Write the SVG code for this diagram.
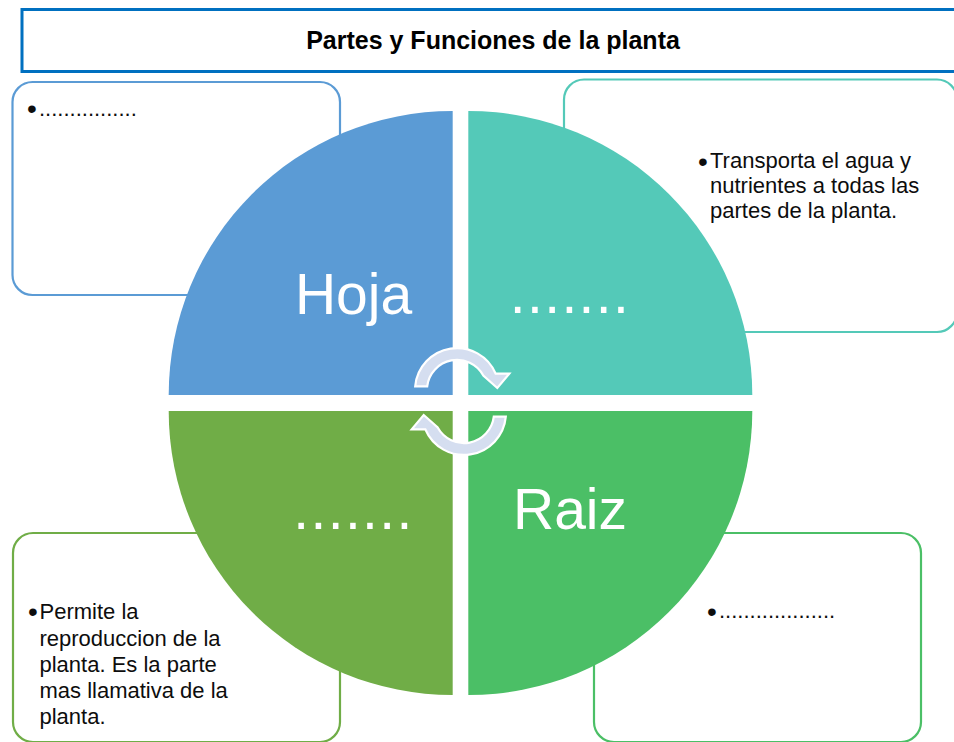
<svg xmlns="http://www.w3.org/2000/svg" width="954" height="742" viewBox="0 0 954 742">
  <style>
    .box { fill: #FFFFFF; stroke-width: 2.2; }
    .txt { font-family: 'Liberation Sans', Arial, sans-serif; font-size: 22px; fill: #0D0D0D; }
    .bul { font-size: 28px; }
    .big { font-family: 'Liberation Sans', Arial, sans-serif; font-size: 57px; fill: #FFFFFF; text-anchor: middle; }
    .dots { letter-spacing: 1.4px; }
    .arrow { fill: #D5DEF0; stroke: #FFFFFF; stroke-width: 2.2; stroke-linejoin: miter; }
  </style>
  <defs>
    <path id="cycArrow" d="M415.2,386.3 A42,42 0 0 1 495.7,373.7 L509.3,373.7 L497.3,388 L483.3,375.5 A30,30 0 0 0 427.2,386.3 Z"/>
  </defs>
  <rect width="954" height="742" fill="#FFFFFF"/>

  <g id="title">
    <rect x="22" y="9.5" width="940" height="62" fill="#FFFFFF" stroke="#0070C0" stroke-width="3"/>
    <text x="493" y="48.5" text-anchor="middle" style="font-family:'Liberation Sans', Arial, sans-serif; font-size:25px; font-weight:bold; fill:#000000">Partes y Funciones de la planta</text>
  </g>

  <g id="box-hoja">
    <rect class="box" x="12.5" y="82" width="327.5" height="213" rx="20" stroke="#5B9BD5"/>
    <text class="txt"><tspan class="bul" x="27" y="117.9">•</tspan><tspan x="39" y="115.7">................</tspan></text>
  </g>

  <g id="box-tallo">
    <rect class="box" x="564" y="79.5" width="393" height="252.5" rx="20" stroke="#54C9B8"/>
    <text class="txt"><tspan class="bul" x="698" y="170.6">•</tspan><tspan x="710" y="168.3">Transporta el agua y</tspan><tspan x="710" y="193.3">nutrientes a todas las</tspan><tspan x="710" y="218.3">partes de la planta.</tspan></text>
  </g>

  <g id="box-flor">
    <rect class="box" x="13" y="533" width="327" height="209" rx="20" stroke="#70AD47"/>
    <text class="txt"><tspan class="bul" x="28" y="620.6">•</tspan><tspan x="39.5" y="619">Permite la</tspan><tspan x="39.5" y="645.5">reproduccion de la</tspan><tspan x="39.5" y="671.8">planta. Es la parte</tspan><tspan x="39.5" y="697.8">mas llamativa de la</tspan><tspan x="39.5" y="724">planta.</tspan></text>
  </g>

  <g id="box-raiz">
    <rect class="box" x="594" y="533" width="327" height="209" rx="20" stroke="#4BBF66"/>
    <text class="txt"><tspan class="bul" x="707" y="621">•</tspan><tspan x="719" y="618.3">...................</tspan></text>
  </g>

  <g id="quad-hoja">
    <path d="M452.7,395 L168.7,395 A284,284 0 0 1 452.7,111 Z" fill="#5B9BD5"/>
    <text class="big" x="353.5" y="314">Hoja</text>
  </g>
  <g id="quad-tallo">
    <path d="M468.3,395 L468.3,111 A284,284 0 0 1 752.3,395 Z" fill="#54C9B8"/>
    <text class="big dots" x="570" y="313">.......</text>
  </g>
  <g id="quad-flor">
    <path d="M452.7,411 L452.7,695 A284,284 0 0 1 168.7,411 Z" fill="#70AD47"/>
    <text class="big dots" x="353.5" y="529">.......</text>
  </g>
  <g id="quad-raiz">
    <path d="M468.3,411 L752.3,411 A284,284 0 0 1 468.3,695 Z" fill="#4BBF66"/>
    <text class="big" x="570" y="529">Raiz</text>
  </g>

  <g id="connectors">
    <use href="#cycArrow" class="arrow"/>
    <use href="#cycArrow" class="arrow" transform="rotate(180 460.5 401.5)"/>
  </g>
</svg>
